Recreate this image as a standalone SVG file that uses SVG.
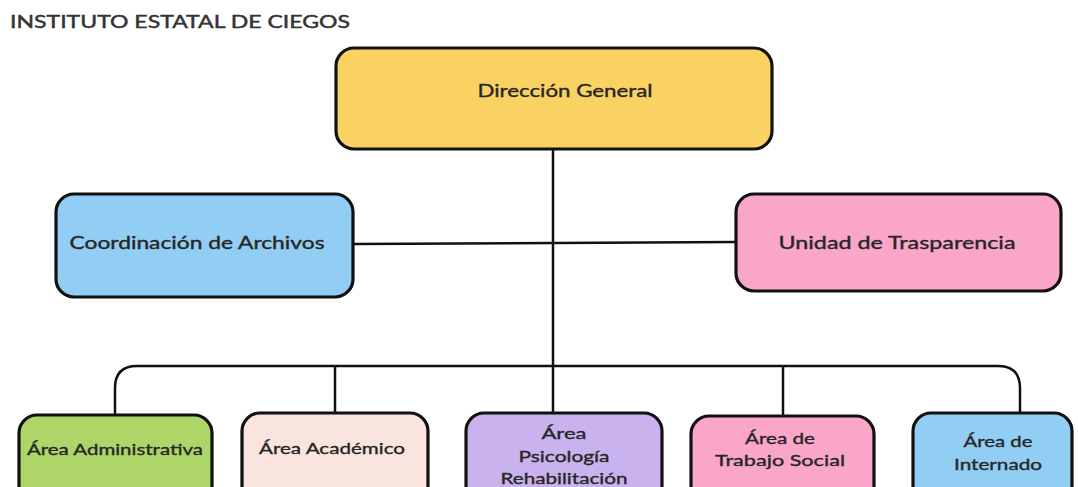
<svg xmlns="http://www.w3.org/2000/svg" width="1078" height="487" viewBox="0 0 1078 487">
<style>
.box{stroke:#111;stroke-width:3.2}
.t{font-family:Lato,"Open Sans","Liberation Sans",sans-serif;font-size:17px;fill:#262626;stroke:#262626;stroke-width:0.35;text-anchor:middle;dominant-baseline:central}
.s{font-size:16px}
.c{fill:none;stroke:#111;stroke-width:2.5}
</style>
<rect width="1078" height="487" fill="#fff"/>
<text x="10" y="28" font-family="Lato,'Liberation Sans',sans-serif" font-size="18" fill="#333" stroke="#333" stroke-width="0.45" textLength="340" lengthAdjust="spacingAndGlyphs">INSTITUTO ESTATAL DE CIEGOS</text>
<g id="connectors">
<line class="c" x1="553" y1="149" x2="553" y2="413"/>
<line class="c" x1="354" y1="244" x2="735" y2="242"/>
<path class="c" d="M115,415 V388 Q115,366 137,366 H998 Q1020,366 1020,388 V413"/>
<line class="c" x1="335" y1="366" x2="335" y2="413"/>
<line class="c" x1="783" y1="366" x2="783" y2="416"/>
</g>
<g id="direccion">
<rect class="box" x="336" y="48" width="436" height="101" rx="18" fill="#F9D262"/>
<text class="t" x="565" y="90" textLength="175" lengthAdjust="spacingAndGlyphs">Dirección General</text>
</g>
<g id="coordinacion">
<rect class="box" x="56" y="194" width="297" height="103" rx="18" fill="#92CDF3"/>
<text class="t" x="197" y="242" textLength="255" lengthAdjust="spacingAndGlyphs">Coordinación de Archivos</text>
</g>
<g id="unidad">
<rect class="box" x="736" y="194" width="325" height="97" rx="18" fill="#F9A6C9"/>
<text class="t" x="897" y="242" textLength="237" lengthAdjust="spacingAndGlyphs">Unidad de Trasparencia</text>
</g>
<g id="administrativa">
<rect class="box" x="19" y="415" width="193" height="90" rx="18" fill="#ADD568"/>
<text class="t s" x="115" y="448" textLength="176" lengthAdjust="spacingAndGlyphs">Área Administrativa</text>
</g>
<g id="academico">
<rect class="box" x="242" y="413" width="186" height="92" rx="18" fill="#FAE5DE"/>
<text class="t s" x="332" y="447" textLength="146" lengthAdjust="spacingAndGlyphs">Área Académico</text>
</g>
<g id="psicologia">
<rect class="box" x="466" y="413" width="196" height="92" rx="18" fill="#C9B2ED"/>
<text class="t s" x="564" y="432" textLength="45" lengthAdjust="spacingAndGlyphs">Área</text>
<text class="t s" x="564" y="455" textLength="91" lengthAdjust="spacingAndGlyphs">Psicología</text>
<text class="t s" x="564" y="477" textLength="127" lengthAdjust="spacingAndGlyphs">Rehabilitación</text>
</g>
<g id="trabajo">
<rect class="box" x="691" y="416" width="183" height="89" rx="18" fill="#F9A6C9"/>
<text class="t s" x="780" y="437" textLength="70" lengthAdjust="spacingAndGlyphs">Área de</text>
<text class="t s" x="780" y="459" textLength="130" lengthAdjust="spacingAndGlyphs">Trabajo Social</text>
</g>
<g id="internado">
<rect class="box" x="913" y="413" width="159" height="92" rx="18" fill="#92CDF3"/>
<text class="t s" x="998" y="440" textLength="69" lengthAdjust="spacingAndGlyphs">Área de</text>
<text class="t s" x="998" y="463" textLength="88" lengthAdjust="spacingAndGlyphs">Internado</text>
</g>
</svg>
